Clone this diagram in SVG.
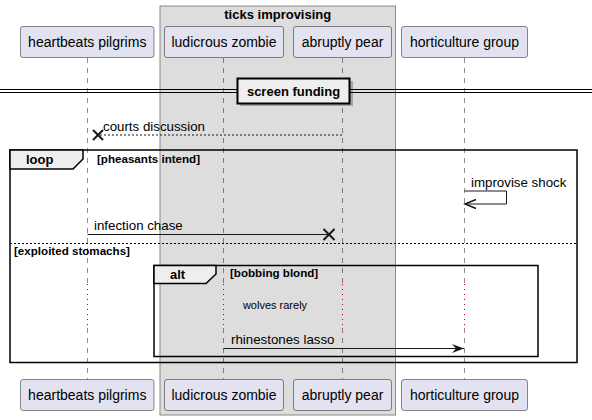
<svg xmlns="http://www.w3.org/2000/svg" width="592" height="420" viewBox="0 0 592 420">
<style>
.p{fill:#E2E2F0;stroke:#181818;stroke-width:0.5}
.pt{font-family:"Liberation Sans",Arial,sans-serif;font-size:14px;fill:#000;text-anchor:middle}
.life{stroke:#181818;stroke-width:0.5;stroke-dasharray:5,5}
.m{font-family:"Liberation Sans",Arial,sans-serif;font-size:13.3px;fill:#000}
.b{font-family:"Liberation Sans",Arial,sans-serif;font-size:11.6px;font-weight:bold;fill:#000}
.kw{font-family:"Liberation Sans",Arial,sans-serif;font-size:13px;font-weight:bold;fill:#000}
.frame{fill:none;stroke:#000;stroke-width:1.5}
.tab{fill:#EEEEEE;stroke:#000;stroke-width:1.5}
.ln{stroke:#181818;stroke-width:1;fill:none}
.delay{stroke:#A80036;stroke-width:1;stroke-dasharray:1,4}
.x{stroke:#181818;stroke-width:2}
</style>
<defs>
<marker id="ah" markerWidth="14" markerHeight="12" refX="12" refY="5" orient="auto" markerUnits="userSpaceOnUse">
<polygon points="0,0.5 12,5 0,9.5 4,5" fill="#181818"/>
</marker>
</defs>
<g id="box-ticks-improvising">
<rect x="160" y="6" width="235.5" height="409" fill="#DDDDDD" stroke="#888888" stroke-width="1"/>
<text x="277.75" y="19" text-anchor="middle" font-family="Liberation Sans,Arial,sans-serif" font-size="13" font-weight="bold">ticks improvising</text>
</g>
<g id="lifelines">
<line class="life" x1="87.5" y1="58" x2="87.5" y2="379"/>
<line class="life" x1="223.5" y1="58" x2="223.5" y2="379"/>
<line class="life" x1="342.5" y1="58" x2="342.5" y2="379"/>
<line class="life" x1="464.5" y1="58" x2="464.5" y2="379"/>
</g>
<g id="delay-lines">
<rect x="84" y="284" width="8" height="41" fill="#FFFFFF"/>
<rect x="220" y="284" width="8" height="41" fill="#DDDDDD"/>
<rect x="339" y="284" width="8" height="41" fill="#DDDDDD"/>
<rect x="461" y="284" width="8" height="41" fill="#FFFFFF"/>
<line class="delay" x1="87.5" y1="284" x2="87.5" y2="325"/>
<line class="delay" x1="223.5" y1="284" x2="223.5" y2="325"/>
<line class="delay" x1="342.5" y1="284" x2="342.5" y2="325"/>
<line class="delay" x1="464.5" y1="284" x2="464.5" y2="325"/>
<text x="275" y="309" text-anchor="middle" font-family="Liberation Sans,Arial,sans-serif" font-size="11">wolves rarely</text>
</g>
<g id="p-heartbeats-pilgrims">
<rect class="p" x="20.5" y="26.5" width="133.5" height="31" rx="2.5"/>
<text class="pt" x="87.25" y="47">heartbeats pilgrims</text>
<rect class="p" x="20.5" y="379.5" width="133.5" height="31" rx="2.5"/>
<text class="pt" x="87.25" y="400">heartbeats pilgrims</text>
</g>
<g id="p-ludicrous-zombie">
<rect class="p" x="164.5" y="26.5" width="119" height="31" rx="2.5"/>
<text class="pt" x="224" y="47">ludicrous zombie</text>
<rect class="p" x="164.5" y="379.5" width="119" height="31" rx="2.5"/>
<text class="pt" x="224" y="400">ludicrous zombie</text>
</g>
<g id="p-abruptly-pear">
<rect class="p" x="293.5" y="26.5" width="98" height="31" rx="2.5"/>
<text class="pt" x="342.5" y="47">abruptly pear</text>
<rect class="p" x="293.5" y="379.5" width="98" height="31" rx="2.5"/>
<text class="pt" x="342.5" y="400">abruptly pear</text>
</g>
<g id="p-horticulture-group">
<rect class="p" x="401.5" y="26.5" width="126" height="31" rx="2.5"/>
<text class="pt" x="464.5" y="47">horticulture group</text>
<rect class="p" x="401.5" y="379.5" width="126" height="31" rx="2.5"/>
<text class="pt" x="464.5" y="400">horticulture group</text>
</g>
<g id="divider-screen-funding">
<line x1="0" y1="89.5" x2="592" y2="89.5" stroke="#000" stroke-width="1"/>
<line x1="0" y1="92.5" x2="592" y2="92.5" stroke="#000" stroke-width="1"/>
<rect x="240" y="81" width="113" height="25" fill="#000000" opacity="0.25"/>
<rect x="237.5" y="78.5" width="112" height="25" fill="#EEEEEE" stroke="#000" stroke-width="2"/>
<text x="293.5" y="96" text-anchor="middle" font-family="Liberation Sans,Arial,sans-serif" font-size="13" font-weight="bold">screen funding</text>
</g>
<g id="frame-loop">
<rect class="frame" x="10" y="150" width="567" height="212.5"/>
<path class="tab" d="M10,150 L83,150 L83,159 L73,169 L10,169 Z"/>
<text class="kw" x="26" y="164">loop</text>
<text class="b" x="97" y="163">[pheasants intend]</text>
<line x1="10" y1="243.5" x2="577" y2="243.5" stroke="#000" stroke-width="1" stroke-dasharray="2,2"/>
<text class="b" x="14" y="255">[exploited stomachs]</text>
</g>
<g id="frame-alt">
<rect class="frame" x="154" y="265.5" width="384" height="91"/>
<path class="tab" d="M154,265.5 L216,265.5 L216,274 L206,283.5 L154,283.5 Z"/>
<text class="kw" x="170" y="279">alt</text>
<text class="b" x="230" y="277">[bobbing blond]</text>
</g>
<g id="connectors">
<g id="msg-courts-discussion">
<line x1="342" y1="135" x2="98" y2="135" class="ln" stroke-dasharray="2,2"/>
<line class="x" x1="93" y1="130" x2="103" y2="140"/>
<line class="x" x1="103" y1="130" x2="93" y2="140"/>
<text class="m" x="103" y="131">courts discussion</text>
</g>
<g id="msg-improvise-shock">
<polyline class="ln" points="464.5,191 506.5,191 506.5,204 465,204"/>
<polyline points="476,199.5 465,204 476,208.5" fill="none" stroke="#181818" stroke-width="1.5"/>
<text class="m" x="471" y="187">improvise shock</text>
</g>
<g id="msg-infection-chase">
<line x1="87.5" y1="234.5" x2="329" y2="234.5" class="ln"/>
<line class="x" x1="323.5" y1="229" x2="334.5" y2="240"/>
<line class="x" x1="334.5" y1="229" x2="323.5" y2="240"/>
<text class="m" x="94" y="230">infection chase</text>
</g>
<g id="msg-rhinestones-lasso">
<line x1="223.5" y1="348.5" x2="464" y2="348.5" class="ln" marker-end="url(#ah)"/>
<text class="m" x="231" y="344">rhinestones lasso</text>
</g>
</g>
</svg>
